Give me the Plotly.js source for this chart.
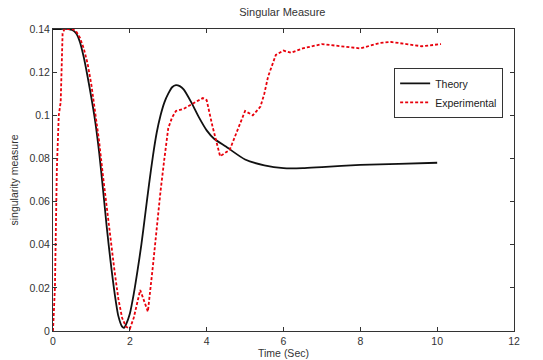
<!DOCTYPE html>
<html>
<head>
<meta charset="utf-8">
<script src="https://cdn.plot.ly/plotly-3.0.1.min.js"></script>
<style>html,body{margin:0;padding:0;background:#fff;}#chart{width:543px;height:360px;}</style>
</head>
<body>
<div id="chart"></div>
<script>
const theoryT = [0,0.2,0.4,0.5,0.6,0.7,0.8,0.9,1.0,1.1,1.2,1.3,1.4,1.5,1.6,1.7,1.8,1.85,1.9,2.0,2.1,2.2,2.3,2.4,2.5,2.6,2.7,2.8,2.9,3.0,3.1,3.2,3.3,3.4,3.6,3.8,4.0,4.2,4.5,5.0,5.5,6.0,6.5,7.0,8.0,9.0,10.0];
const theoryY = [0.14,0.14,0.14,0.1395,0.138,0.134,0.127,0.118,0.108,0.097,0.083,0.066,0.048,0.032,0.018,0.007,0.002,0.0015,0.003,0.008,0.017,0.028,0.040,0.054,0.068,0.081,0.092,0.100,0.106,0.110,0.113,0.114,0.1135,0.112,0.106,0.099,0.093,0.089,0.0855,0.0795,0.0768,0.0755,0.0755,0.076,0.077,0.0775,0.078];
const expT = [0,0.05,0.1,0.15,0.2,0.25,0.3,0.5,0.6,0.7,0.8,0.9,1.0,1.1,1.2,1.3,1.4,1.5,1.6,1.7,1.8,1.9,2.0,2.1,2.2,2.27,2.35,2.47,2.6,2.7,2.8,2.9,3.0,3.1,3.2,3.4,3.6,3.9,4.0,4.15,4.35,4.6,4.8,5.0,5.2,5.4,5.5,5.6,5.8,6.0,6.2,6.5,7.0,7.5,8.0,8.5,8.8,9.2,9.6,10.1];
const expY = [0,0.02,0.075,0.1,0.106,0.138,0.14,0.14,0.139,0.136,0.131,0.124,0.114,0.102,0.088,0.072,0.057,0.042,0.028,0.015,0.006,0.002,0.001,0.006,0.013,0.019,0.015,0.009,0.030,0.048,0.065,0.080,0.094,0.099,0.102,0.103,0.105,0.108,0.107,0.095,0.081,0.084,0.093,0.102,0.100,0.104,0.110,0.118,0.128,0.130,0.129,0.131,0.133,0.132,0.131,0.1335,0.134,0.133,0.132,0.133];
const xTicks = [0,2,4,6,8,10,12];
const yTicks = [0,0.02,0.04,0.06,0.08,0.1,0.12,0.14];
const yTickText = ['0','0.02','0.04','0.06','0.08','0.1','0.12','0.14'];

const traces = [
  {x: theoryT, y: theoryY, type: 'scatter', mode: 'lines', name: 'Theory',
   line: {color: '#111111', width: 1.8, shape: 'spline', smoothing: 0.6}},
  {x: expT, y: expY, type: 'scatter', mode: 'lines', name: 'Experimental',
   line: {color: '#e8000b', width: 1.8, dash: '3px,2px'}}
];
const font = {family: 'Liberation Sans, Arial, sans-serif', size: 10.5, color: '#333'};
const layout = {
  width: 543, height: 360,
  margin: {l: 53, r: 29, t: 29, b: 29},
  paper_bgcolor: '#fff', plot_bgcolor: '#fff',
  font: font,
  showlegend: true,
  title: {text: 'Singular Measure', font: {family: font.family, size: 11, color: '#333'}, x: 0.52, xanchor: 'center', y: 0.965, yanchor: 'middle'},
  xaxis: {
    range: [0, 12], tickvals: xTicks, ticktext: xTicks.map(String),
    ticks: 'inside', ticklen: 4, tickcolor: '#333', showgrid: false, zeroline: false,
    showline: true, linecolor: '#333', linewidth: 1, mirror: 'allticks',
    tickfont: font,
    title: {text: 'Time (Sec)', font: font, standoff: 2}
  },
  yaxis: {
    range: [0, 0.14], tickvals: yTicks, ticktext: yTickText,
    ticks: 'inside', ticklen: 4, tickcolor: '#333', showgrid: false, zeroline: false,
    showline: true, linecolor: '#333', linewidth: 1, mirror: 'allticks',
    tickfont: font,
    title: {text: 'singularity measure', font: font, standoff: 8}
  },
  legend: {
    x: 0.74, y: 0.871, xanchor: 'left', yanchor: 'top',
    bgcolor: '#fff', bordercolor: '#333', borderwidth: 1,
    font: {family: font.family, size: 10.5, color: '#222'},
    tracegroupgap: 0
  }
};
Plotly.newPlot('chart', traces, layout, {displayModeBar: false, staticPlot: true});
</script>
</body>
</html>
